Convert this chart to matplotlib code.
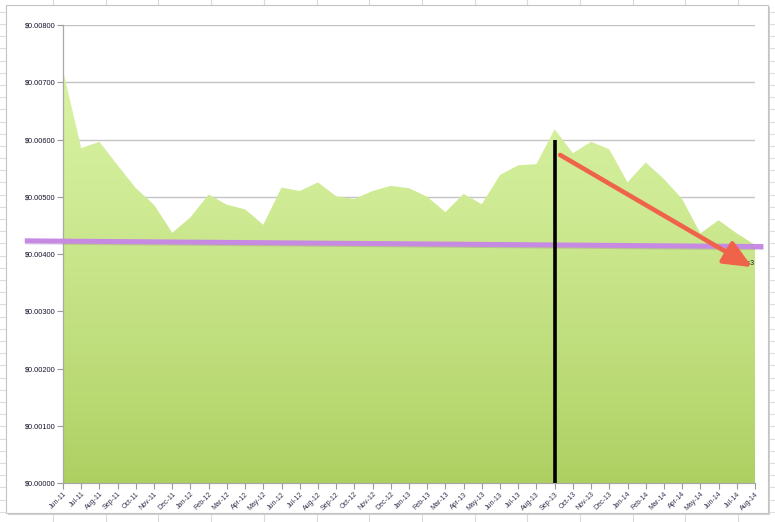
import numpy as np
import matplotlib
matplotlib.use("Agg")
import matplotlib.pyplot as plt
from matplotlib.patches import Rectangle, Polygon
from matplotlib.ticker import FuncFormatter, MultipleLocator

plt.rcParams['font.family'] = ['Liberation Sans', 'DejaVu Sans']

months = ['Jun-11', 'Jul-11', 'Aug-11', 'Sep-11', 'Oct-11', 'Nov-11', 'Dec-11',
          'Jan-12', 'Feb-12', 'Mar-12', 'Apr-12', 'May-12', 'Jun-12', 'Jul-12',
          'Aug-12', 'Sep-12', 'Oct-12', 'Nov-12', 'Dec-12', 'Jan-13', 'Feb-13',
          'Mar-13', 'Apr-13', 'May-13', 'Jun-13', 'Jul-13', 'Aug-13', 'Sep-13',
          'Oct-13', 'Nov-13', 'Dec-13', 'Jan-14', 'Feb-14', 'Mar-14', 'Apr-14',
          'May-14', 'Jun-14', 'Jul-14', 'Aug-14']
price = [0.00721, 0.00585, 0.00596, 0.00555, 0.00515, 0.00486, 0.00437, 0.00464,
         0.00504, 0.00486, 0.00478, 0.00451, 0.00516, 0.00510, 0.00525, 0.00501,
         0.00496, 0.00510, 0.00519, 0.00515, 0.00500, 0.00473, 0.00505, 0.00487,
         0.00538, 0.00555, 0.00557, 0.00618, 0.00576, 0.00596, 0.00583, 0.00525,
         0.00560, 0.00531, 0.00496, 0.00436, 0.00459, 0.00436, 0.00416]

# hand drawn annotations (x in month index, y in $)
trend_x = [-2.1, 38.45]
trend_y = [0.00423, 0.00413]
marker_month = 'Sep-13'
marker_top = 0.0060
arrow_from = (27.3, 0.00573)
arrow_to = (37.85, 0.00377)

W, H = 775, 522
fig = plt.figure(figsize=(W / 100, H / 100), dpi=100)

# spreadsheet cells behind the chart
bg = fig.add_axes([0, 0, 1, 1], zorder=-2)
bg.set_xlim(0, W)
bg.set_ylim(H, 0)
bg.axis('off')
for cx in np.arange(53, W, 52.7):
    bg.axvline(cx, color='#d9d9d9', lw=0.8)
for cy in np.arange(11.7, H, 12.2):
    bg.axhline(cy, color='#dedede', lw=0.8)
bg.add_patch(Rectangle((8, 7), 762, 508, facecolor='#d0d0d0', edgecolor='none', zorder=2))
bg.add_patch(Rectangle((6, 5), 762, 508, facecolor='white', edgecolor='#c4c4c4', lw=0.8, zorder=3))

ax = fig.add_axes([63 / W, (H - 483) / H, (755 - 63) / W, (483 - 25) / H])
x = np.arange(len(months))

ax.set_xlim(0, len(months) - 1)
ax.set_ylim(0, 0.008)

# gradient filled area
poly = Polygon(np.column_stack([np.r_[x, x[-1], 0], np.r_[price, 0, 0]]),
               closed=True, facecolor='none', edgecolor='none')
ax.add_patch(poly)
grad = np.linspace(0, 1, 256).reshape(-1, 1)
top_c = np.array([216, 242, 162]) / 255
bot_c = np.array([174, 208, 98]) / 255
img = top_c * (1 - grad[..., None] ** 1.3) + bot_c * grad[..., None] ** 1.3
im = ax.imshow(img, extent=[0, len(months) - 1, 0, max(price)], origin='upper',
               aspect='auto', zorder=2)
im.set_clip_path(poly)

ax.yaxis.set_major_locator(MultipleLocator(0.001))
ax.yaxis.set_major_formatter(FuncFormatter(lambda v, p: f'${v:.5f}'))
ax.grid(axis='y', color='#c4c4c4', lw=1.0, zorder=1)
ax.set_axisbelow(True)
ax.set_xticks(x)
ax.set_xticklabels(months, rotation=45, ha='right', rotation_mode='anchor')
ax.tick_params(axis='y', labelsize=5.3, colors='#999999', labelcolor='#15152e',
               length=4, width=0.8, pad=1.5)
ax.tick_params(axis='x', labelsize=5, colors='#999999', labelcolor='#33334f',
               length=4, width=0.8, pad=1.5)
for s in ['top', 'right']:
    ax.spines[s].set_visible(False)
for s in ['left', 'bottom']:
    ax.spines[s].set_color('#a8a8a8')
    ax.spines[s].set_linewidth(0.9)

# purple level line
ax.plot(trend_x, trend_y, color='#7a4a90', lw=3.8, alpha=0.22, clip_on=False,
        zorder=4, solid_capstyle='butt',
        transform=ax.transData + matplotlib.transforms.Affine2D().translate(0.5, -1.0))
ax.plot(trend_x, trend_y, color='#c78ae2', lw=3.6, clip_on=False, zorder=5,
        solid_capstyle='butt')

# black vertical marker
mi = months.index(marker_month)
ax.plot([mi, mi], [0, marker_top], color='black', lw=2.6, zorder=6,
        solid_capstyle='butt', clip_on=False)

# legend remnant under the arrow
ax.text(37.99, 0.00383, 'Series3', fontsize=5, ha='right', va='center',
        color='#222222', zorder=6, clip_on=False)

# red arrow
ax.annotate('', xy=arrow_to, xytext=arrow_from, zorder=7,
            arrowprops=dict(arrowstyle='-|>,head_length=1.7,head_width=0.75',
                            color='#f0634b', lw=3.3, shrinkA=0, shrinkB=0))

fig.savefig('out.png', dpi=100)
